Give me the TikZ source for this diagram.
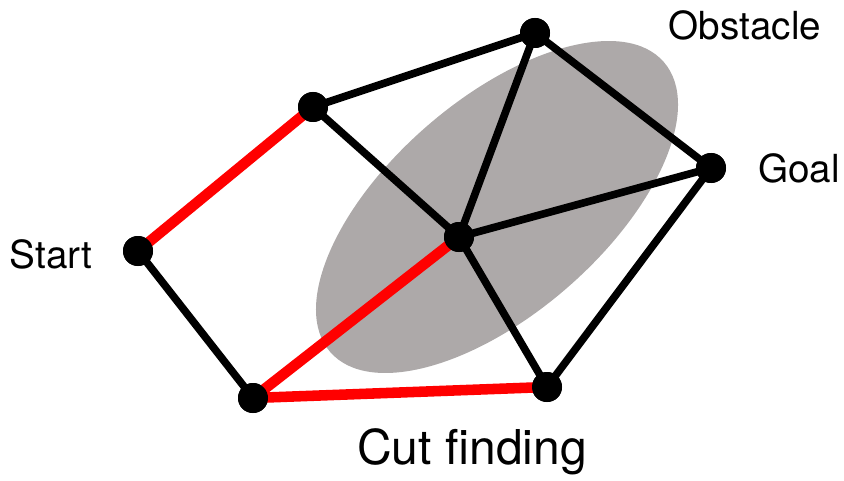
\documentclass[tikz,border=0pt]{standalone}
\usepackage{fontspec}
\setmainfont{TeX Gyre Heros}
\usepackage{xcolor}
\usepackage{tikz}
\usetikzlibrary{positioning}
\definecolor{cinzaObst}{RGB}{173,169,169}
\tikzset{
    vertice/.style={
        circle,
        fill=black,
        inner sep=0pt,
        minimum size=0.9cm
    },
    aresta/.style={line width=6.5pt, black},
    corte/.style={line width=9pt, red},
    obstaculo/.style={fill=cinzaObst},
    rotulo/.style={inner sep=0pt, font=\fontsize{33}{40}\selectfont},
    titulo/.style={inner sep=0pt, font=\fontsize{41}{48}\selectfont}
}

\begin{document}
\begin{tikzpicture}[x=0.03cm, y=-0.03cm]
        \useasboundingbox (0,0) rectangle (844,481);
        \fill[obstaculo, rotate around={41:(497,207)}] (497,207)
            ellipse [x radius=221, y radius=107];

        \node[vertice] (inicio) at (138,251) {};
        \node[vertice] (cimaEsq) at (313,107) {};
        \node[vertice] (topo) at (535,33) {};
        \node[vertice] (centro) at (459,237) {};
        \node[vertice] (objetivo) at (711,168) {};
        \node[vertice] (baixoEsq) at (253,398) {};
        \node[vertice] (baixoDir) at (547,387) {};

        \draw[corte] (inicio.center) -- (cimaEsq.center);
        \draw[corte] (centro.center) -- (baixoEsq.center);
        \draw[corte] (baixoEsq.center) -- (baixoDir.center);
        \draw[aresta] (inicio.center) -- (baixoEsq.center);
        \draw[aresta] (cimaEsq.center) -- (topo.center);
        \draw[aresta] (cimaEsq.center) -- (centro.center);
        \draw[aresta] (topo.center) -- (centro.center);
        \draw[aresta] (topo.center) -- (objetivo.center);
        \draw[aresta] (centro.center) -- (objetivo.center);
        \draw[aresta] (centro.center) -- (baixoDir.center);
        \draw[aresta] (baixoDir.center) -- (objetivo.center);

        % redesenha os vertices por cima das arestas
        \foreach \v in {inicio,cimaEsq,topo,centro,objetivo,baixoEsq,baixoDir}
            \fill (\v) circle [radius=15];

        \node[rotulo, left=0.9cm of inicio, yshift=-3pt] (lblInicio) {Start};
        \node[rotulo, right=0.95cm of objetivo] (lblObjetivo) {Goal};
        \node[rotulo] (lblObstaculo) at (745,25) {Obstacle};
        \node[titulo] (lblCorte) at (472,452) {Cut finding};
    \end{tikzpicture}
\end{document}
